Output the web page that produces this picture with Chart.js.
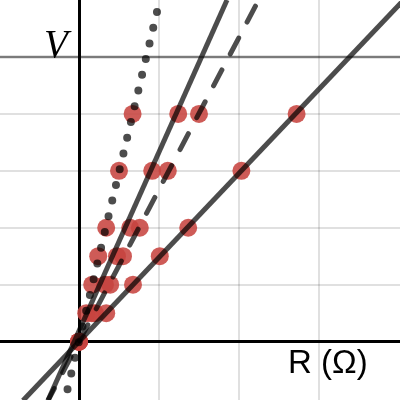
<!DOCTYPE html>
<html>
<head>
<meta charset="utf-8">
<script src="https://cdn.jsdelivr.net/npm/chart.js@4"></script>
<style>
  html, body { margin: 0; padding: 0; background: #fff; }
  canvas { display: block; }
</style>
</head>
<body>
<canvas id="chart" width="400" height="400"></canvas>
<script>
// V levels of the measured points (grid step 2)
const voltLevels = [0, 1, 2, 3, 4, 6, 8];

// R readings for each series (one per level above)
const rDotted  = [0, 0.09, 0.165, 0.24, 0.34, 0.5, 0.67];
const rSteep   = [0, 0.16, 0.325, 0.475, 0.64, 0.915, 1.24];
const rDashed  = [0, 0.2, 0.39, 0.55, 0.76, 1.11, 1.5];
const rShallow = [0, 0.34, 0.675, 1.01, 1.365, 2.03, 2.72];

// fitted lines, end points read at the picture's edges
const dottedLineX  = [1.01, -0.175];
const dottedLineY  = [12, -2.05];
const steepLineX   = [1.85, -0.386];
const steepLineY   = [12, -2.05];
const dashedLineX  = [2.246, -0.384];
const dashedLineY  = [12, -2.05];
const shallowLineX = [4.1, -0.7];
const shallowLineY = [12.12, -2.07];

// horizontal line y = V
const vLevel = 10;

// grid lines
const xTicks = [0, 1, 2, 3];
const yTicks = [0, 2, 4, 6, 8, 10];

const toPoints = (xs, ys) => xs.map((x, i) => ({ x: x, y: ys[i] }));

const lineColor = 'rgba(0, 0, 0, 0.7)';
const dotColor = 'rgba(199, 68, 64, 0.88)';

function dots(xs) {
    return {
        data: toPoints(xs, voltLevels),
        showLine: false,
        pointRadius: 9,
        pointHoverRadius: 9,
        pointBorderWidth: 0,
        pointBackgroundColor: dotColor,
        order: 2
    };
}

function fitLine(xs, ys, extra) {
    return Object.assign({
        data: toPoints(xs, ys),
        showLine: true,
        borderColor: lineColor,
        borderWidth: 5,
        pointRadius: 0,
        order: 1
    }, extra || {});
}

const labelPlugin = {
    id: 'labels',
    afterDraw(chart) {
        const ctx = chart.ctx;
        ctx.save();
        ctx.fillStyle = '#000';
        ctx.textBaseline = 'alphabetic';
        ctx.textAlign = 'left';
        ctx.font = 'italic 39px "Liberation Serif"';
        ctx.fillText('V', 44, 57);
        ctx.font = '33px "Liberation Sans"';
        ctx.fillText('R (\u03A9)', 288, 373);
        ctx.restore();
    }
};

new Chart(document.getElementById('chart'), {
    type: 'scatter',
    data: {
        datasets: [
            fitLine(dottedLineX, dottedLineY, {
                borderWidth: 8,
                borderDash: [0, 16.16],
                borderDashOffset: 3.9,
                borderCapStyle: 'round'
            }),
            fitLine(steepLineX, steepLineY),
            fitLine(dashedLineX, dashedLineY, {
                borderDash: [18, 18],
                borderDashOffset: 29,
                borderCapStyle: 'round'
            }),
            fitLine(shallowLineX, shallowLineY),
            dots(rDotted),
            dots(rSteep),
            dots(rDashed),
            dots(rShallow),
            {
                data: [{ x: -2, y: vLevel }, { x: 5, y: vLevel }],
                showLine: true,
                borderColor: 'rgba(0, 0, 0, 0.45)',
                borderWidth: 2.5,
                pointRadius: 0,
                order: 3
            }
        ]
    },
    options: {
        responsive: false,
        animation: false,
        layout: { padding: 0, autoPadding: false },
        plugins: {
            legend: { display: false },
            tooltip: { enabled: false }
        },
        scales: {
            x: {
                type: 'linear',
                min: -0.9875,
                max: 4.0125,
                afterBuildTicks: scale => { scale.ticks = xTicks.map(v => ({ value: v })); },
                ticks: { display: false },
                border: { display: false },
                grid: {
                    drawTicks: false,
                    color: c => c.tick.value === 0 ? '#000' : 'rgba(0, 0, 0, 0.12)',
                    lineWidth: c => c.tick.value === 0 ? 3 : 2
                }
            },
            y: {
                type: 'linear',
                min: -2.05,
                max: 12,
                afterBuildTicks: scale => { scale.ticks = yTicks.map(v => ({ value: v })); },
                ticks: { display: false },
                border: { display: false },
                grid: {
                    drawTicks: false,
                    color: c => c.tick.value === 0 ? '#000' : 'rgba(0, 0, 0, 0.12)',
                    lineWidth: c => c.tick.value === 0 ? 3 : 2
                }
            }
        }
    },
    plugins: [labelPlugin]
});
</script>
</body>
</html>
